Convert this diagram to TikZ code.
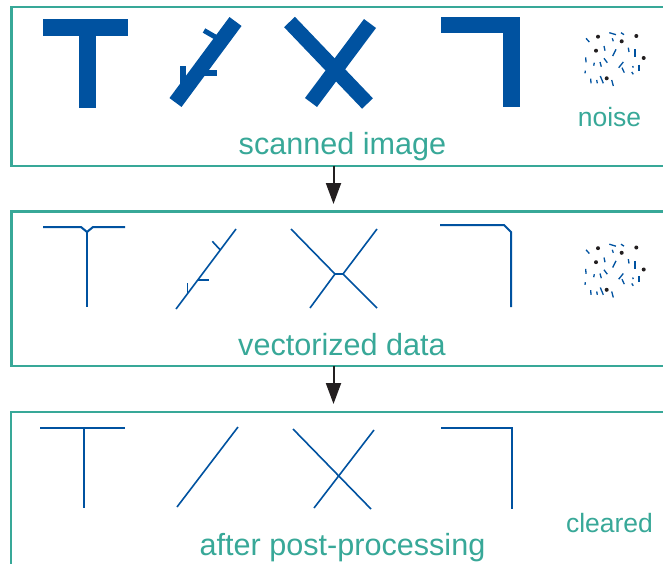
\documentclass[tikz,border=0pt]{standalone}
\usepackage{fontspec}
\setmainfont{Liberation Sans}
\usetikzlibrary{arrows.meta}
\definecolor{teal1}{RGB}{56,168,152}
\definecolor{blue1}{RGB}{0,82,160}
\definecolor{dark1}{RGB}{35,31,32}
\begin{document}
\begin{tikzpicture}[x=1pt,y=-1pt,
 panel/.style={draw=teal1,line width=2.7pt},
 bigtext/.style={text=teal1,font=\fontsize{30.6}{36}\selectfont,anchor=base,inner sep=0pt},
 smalltext/.style={text=teal1,font=\fontsize{26.5}{31}\selectfont,anchor=base,inner sep=0pt},
 vline/.style={draw=blue1,line width=2pt},
 dline/.style={draw=blue1,line width=1.6pt},
 flow/.style={draw=dark1,line width=2pt,-{Triangle[length=21pt,width=15pt]}},
 ndash/.style={draw=blue1,line width=1.3pt},
 ndashb/.style={draw=blue1,line width=2.4pt},
 ndot/.style={fill=dark1},
 noisepic/.pic={
  \fill[ndot] (598,36.7) circle (2pt) (636.3,36) circle (2pt) (621.7,41.3) circle (2pt)
              (596,50.7) circle (2pt) (643.7,58) circle (2pt) (606.7,78.3) circle (2pt);
  \draw[ndash] (586,38.3)--(589.3,42) (609.3,32.7)--(616,34.7) (621,32.7)--(624,34.7)
     (612.3,38.3)--(613.3,41.3) (604,46)--(605,50.7) (616,49.3)--(612.7,56)
     (628.3,47.7)--(629,52) (585.7,57.3)--(586,62.3) (594.3,62.7)--(593.7,65.7)
     (600,62)--(601.3,66.7) (604,58.3)--(607.3,62.7) (623.3,62)--(618.7,67.7)
     (622,67.7)--(624.3,72.7) (632.7,66)--(633.3,67.6) (631.7,72)--(633.3,74.3)
     (585.3,70.7)--(585,73.3) (590.7,78.7)--(591,83.3) (596.7,80)--(597.3,83.3)
     (600.3,76)--(603.3,83.3) (611.7,80)--(613.3,86);
  \draw[ndashb] (634.7,49.3)--(634.7,57.3) (639,64.7)--(639,70.7);
 }
]
\useasboundingbox (0,0) rectangle (663,564);
\clip (0,0) rectangle (663,564);

% panels
\draw[panel] (680,7) -- (11.5,7) -- (11.5,166) -- (680,166);
\draw[panel] (680,211.5) -- (11.5,211.5) -- (11.5,366) -- (680,366);
\draw[panel] (680,412) -- (11,412) -- (11,590);

% arrows
\coordinate (a1s) at (333.5,166);
\coordinate (a1e) at (333.5,204);
\coordinate (a2s) at (333.5,366);
\coordinate (a2e) at (333.5,404);
\draw[flow] (a1s) -- (a1e);
\draw[flow] (a2s) -- (a2e);

% panel 1: scanned shapes
\fill[blue1] (43,19) rectangle (128,36);
\fill[blue1] (79,35) rectangle (96,108);
\draw[blue1,line width=15pt] (175.5,102.5) -- (235.5,21.5);
\draw[blue1,line width=5pt] (204,30.5) -- (217,38);
\fill[blue1] (180,66) rectangle (185.5,86);
\fill[blue1] (203,70) rectangle (217,76);
\draw[blue1,line width=15pt] (289.5,22) -- (367.5,103.5);
\draw[blue1,line width=15pt] (370,23.5) -- (311,102.5);
\fill[blue1] (441,17) rectangle (520,33);
\fill[blue1] (503,17) rectangle (520,107);
\pic at (0,0) {noisepic};

% panel 2: vectorized
\draw[vline] (43,227) -- (81,227) -- (87,232) -- (93,227) -- (125,227);
\draw[vline] (87,232) -- (87,307);
\draw[dline] (176,309) -- (236,229);
\draw[dline] (212.3,241.3) -- (220.3,250);
\draw[dline] (198,280) -- (209,280);
\draw[dline] (187.5,283) -- (187.5,294);
\draw[dline] (291,229) -- (335,274) -- (310,308);
\draw[dline] (335,274) -- (343,274);
\draw[dline] (377,229) -- (343,274) -- (377,308);
\draw[vline] (440,225) -- (504,225) -- (511,232) -- (511,307);
\pic at (0,211.5) {noisepic};

% panel 3: post-processed
\draw[vline] (40,428) -- (125,428);
\draw[vline] (84,428) -- (84,508);
\draw[dline] (177,507) -- (238,427);
\draw[dline] (293,429) -- (371,509);
\draw[dline] (374,430) -- (314,508);
\draw[vline] (441,428) -- (512,428) -- (512,509);

% labels
\node[bigtext] (t1) at (342.5,155) {scanned image};
\node[smalltext] (n1) at (609.5,127) {noise};
\node[bigtext] (t2) at (342,355) {vectorized data};
\node[bigtext] (t3) at (342.5,555) {after post-processing};
\node[smalltext] (c3) at (609.5,532) {cleared};
\end{tikzpicture}
\end{document}
